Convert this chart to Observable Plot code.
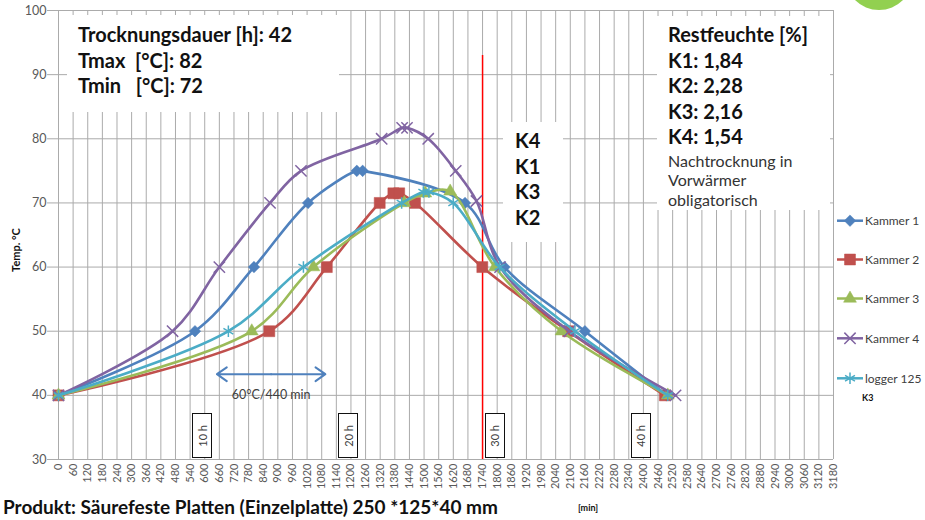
<!DOCTYPE html>
<html><head><meta charset="utf-8">
<script src="https://cdn.jsdelivr.net/npm/d3@7"></script>
<script src="https://cdn.jsdelivr.net/npm/@observablehq/plot@0.6"></script>
<style>
body{margin:0;background:#fff;font-family:Lato,"Open Sans",sans-serif;}
#wrap{position:relative;width:925px;height:520px;overflow:hidden;background:#fff;}
.box{position:absolute;background:#fff;color:#111;}
.b{font-weight:bold;font-size:20px;line-height:25.5px;white-space:pre;}
.s{font-size:16px;line-height:19.5px;color:#333;}
.hbox{position:absolute;border:1.5px solid #111;background:#fff;box-sizing:border-box;display:flex;align-items:center;justify-content:center;}
.hbox span{writing-mode:vertical-rl;transform:rotate(180deg);font-size:11px;color:#404040;}
</style>
</head><body><div id="wrap"></div>
<script>
// ---- data ----
const seriesNames = ["Kammer 1","Kammer 2","Kammer 3","Kammer 4","logger 125"];
const seriesColors = ["#4f81bd","#c0504d","#9bbb59","#8064a2","#4bacc6"];
const k1Min  = [0, 560, 802, 1024, 1224, 1248, 1668, 1830, 2160, 2495];
const k1Temp = [40, 50, 60, 70, 75, 75, 70, 60, 50, 40];
const k2Min  = [0, 865, 1101, 1318, 1374, 1398, 1463, 1739, 2091, 2488];
const k2Temp = [40, 50, 60, 70, 71.5, 71.5, 70, 60, 50, 40];
const k3Min  = [0, 793, 1046, 1419, 1505, 1607, 1791, 2064, 2500];
const k3Temp = [40, 50, 60, 70, 71.5, 71.8, 60, 50, 40];
const k4Min  = [0, 468, 660, 868, 995, 1326, 1410, 1430, 1517, 1630, 1715, 1812, 2096, 2532];
const k4Temp = [40, 50, 60, 70, 75, 80, 81.7, 81.7, 80, 75, 70.3, 60, 50, 40];
const lgMin  = [0, 697, 1005, 1408, 1497, 1520, 1620, 1810, 2119, 2500];
const lgTemp = [40, 50, 60, 70, 71.7, 71.7, 70, 60, 50, 40];
const xTicks = d3.range(0, 3181, 60);
const yTicks = [30, 40, 50, 60, 70, 80, 90, 100];
const hourMarks = [10, 20, 30, 40];
const endOfHeating = 1740;          // red line [min]
const arrowFrom = 650, arrowTo = 1095, arrowTemp = 43.3;
const arrowLabel = "60°C/440 min";
const infoLeft = ["Trocknungsdauer [h]: 42", "Tmax  [°C]: 82", "Tmin   [°C]: 72"];
const infoRightBold = ["Restfeuchte [%]", "K1: 1,84", "K2: 2,28", "K3: 2,16", "K4: 1,54"];
const infoRightNote = ["Nachtrocknung in", "Vorwärmer", "obligatorisch"];
const orderLabels = ["K4", "K1", "K3", "K2"];
const titleText = "Produkt: Säurefeste Platten (Einzelplatte) 250 *125*40 mm";

const allMin = [k1Min,k2Min,k3Min,k4Min,lgMin];
const allTemp = [k1Temp,k2Temp,k3Temp,k4Temp,lgTemp];
const symbols = [d3.symbolDiamond2, d3.symbolSquare, d3.symbolTriangle, d3.symbolTimes, d3.symbolAsterisk];
const symR = [5.2, 6.2, 4.8, 5.2, 5.4];
const filled = [true, true, true, false, false];

const rows = [];
seriesNames.forEach((s,i)=>allMin[i].forEach((m,j)=>rows.push({series:s, min:m, temp:allTemp[i][j]})));

const arrowMid = (arrowFrom+arrowTo)/2;
const marks = [
  Plot.gridX(xTicks, {stroke:"#ababab", strokeOpacity:1, strokeWidth:1}),
  Plot.gridY(yTicks, {stroke:"#ababab", strokeOpacity:1, strokeWidth:1, x1:-45, x2:3180}),
  Plot.ruleY([30], {stroke:"#ababab"}),
  Plot.ruleX([0], {stroke:"#ababab"}),
  Plot.axisX(xTicks, {tickRotate:-90, tickSize:0, tickPadding:4, fontSize:11, fill:"#595959", label:null, tickFormat:d=>String(d)}),
  Plot.axisY(yTicks, {tickSize:0, tickPadding:12, fontSize:12.5, fill:"#595959", label:null}),
  Plot.ruleX([endOfHeating], {y1:30, y2:93, stroke:"#ff0000", strokeWidth:1.5}),
  Plot.arrow([{x1:arrowMid, x2:arrowFrom, y:arrowTemp},{x1:arrowMid, x2:arrowTo, y:arrowTemp}],
    {x1:"x1", x2:"x2", y1:"y", y2:"y", stroke:"#4f81bd", strokeWidth:2, headLength:9, headAngle:70}),
  Plot.text([{x:arrowMid, y:arrowTemp-3.2}], {x:"x", y:"y", text:()=>arrowLabel, fontSize:12.5, fill:"#404040"})
];
seriesNames.forEach((s,i)=>{
  const d = rows.filter(r=>r.series===s);
  marks.push(Plot.line(d, {x:"min", y:"temp", stroke:seriesColors[i], strokeWidth:2.6, curve:"catmull-rom"}));
  marks.push(Plot.dot(d, {x:"min", y:"temp", symbol:symbols[i], r:symR[i],
    fill: filled[i] ? seriesColors[i] : "none", stroke: seriesColors[i], strokeWidth: filled[i] ? 0.5 : 1.5}));
});

const plot = Plot.plot({
  width:925, height:492,
  marginLeft:58, marginRight:92, marginTop:10, marginBottom:33,
  style:{fontFamily:"Lato, 'Open Sans', sans-serif", background:"transparent", overflow:"visible"},
  x:{domain:[0,3180], axis:null},
  y:{domain:[30,100], axis:null},
  marks
});
const wrap = document.getElementById("wrap");
wrap.appendChild(plot);
const svg = d3.select(plot);

// legend
const legY = [220.7, 259.5, 298.5, 338.3, 378.3];
seriesNames.forEach((s,i)=>{
  const g = svg.append("g").attr("text-anchor","start");
  g.append("line").attr("x1",837).attr("x2",863).attr("y1",legY[i]).attr("y2",legY[i]).attr("stroke",seriesColors[i]).attr("stroke-width",2.5);
  g.append("path").attr("d", d3.symbol(symbols[i], symR[i]*symR[i]*Math.PI)()).attr("transform",`translate(850,${legY[i]})`)
    .attr("fill", filled[i]?seriesColors[i]:"none").attr("stroke",seriesColors[i]).attr("stroke-width", filled[i]?0.5:1.5);
  g.append("text").attr("x",865).attr("y",legY[i]).attr("dy","0.35em").attr("font-size",12).attr("fill","#404040").text(s);
});
svg.append("text").attr("x",862).attr("y",398).attr("dy","0.35em").attr("text-anchor","start").attr("font-size",9).attr("font-weight","bold").attr("fill","#111").text("K3");
// y axis title
svg.append("text").attr("transform","translate(16,250) rotate(-90)").attr("text-anchor","middle").attr("dy","0.35em")
  .attr("font-size",11).attr("font-weight","bold").attr("fill","#111").text("Temp. °C");

function addBox(left, top, w, h, html){
  const d = document.createElement("div");
  d.className="box"; d.style.left=left+"px"; d.style.top=top+"px"; d.style.width=w+"px"; d.style.height=h+"px";
  d.innerHTML = html; wrap.appendChild(d); return d;
}
addBox(67, 15, 272, 97, `<div style="padding:7px 0 0 11px">${infoLeft.map(t=>`<div class="b">${t}</div>`).join("")}</div>`);
addBox(657, 16, 173, 194, `<div style="padding:6px 0 0 11px">${infoRightBold.map(t=>`<div class="b">${t}</div>`).join("")}<div style="height:1px"></div>${infoRightNote.map(t=>`<div class="s">${t}</div>`).join("")}</div>`);
addBox(503, 122, 60, 120, `<div style="padding:6px 0 0 12px">${orderLabels.map(t=>`<div class="b">${t}</div>`).join("")}</div>`);

const xs = plot.scale("x");
hourMarks.forEach(h=>{
  const cx = xs.apply(h*60) - 2;
  const d = document.createElement("div");
  d.className="hbox"; d.style.left=(cx-10)+"px"; d.style.top="413px"; d.style.width="20px"; d.style.height="45px";
  d.innerHTML=`<span>${h} h</span>`; wrap.appendChild(d);
});

const circ = document.createElement("div");
Object.assign(circ.style,{position:"absolute",left:"845px",top:"-58px",width:"68px",height:"68px",borderRadius:"50%",background:"#92d050"});
wrap.appendChild(circ);

const title = document.createElement("div");
Object.assign(title.style,{position:"absolute",left:"3px",top:"495px",fontSize:"19px",fontWeight:"bold",color:"#111",whiteSpace:"pre"});
title.textContent = titleText; wrap.appendChild(title);
const unit = document.createElement("div");
Object.assign(unit.style,{position:"absolute",left:"578px",top:"502px",fontSize:"9px",fontWeight:"bold",color:"#111"});
unit.textContent="[min]"; wrap.appendChild(unit);
</script>
</body></html>
